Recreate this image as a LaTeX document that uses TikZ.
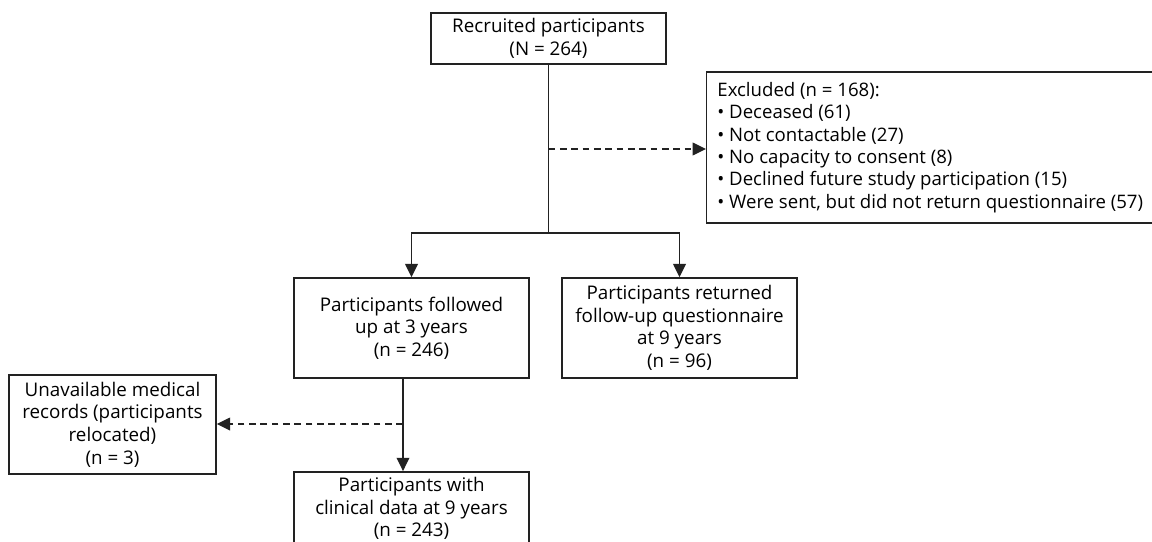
\documentclass[tikz,border=0pt]{standalone}
\usepackage{fontspec}
\setmainfont{Open Sans}
\usepackage{xcolor}
\usepackage{tikz}
\usetikzlibrary{arrows.meta, positioning, calc}
\definecolor{boxline}{RGB}{34, 34, 34}

\tikzset{
    flowbox/.style={draw=boxline, line width=1.1pt, align=center,
                    inner sep=4pt, minimum width=176.25pt},
    link/.style={draw=boxline, line width=1.1pt},
    linkarrow/.style={link, -{Triangle[length=10pt, width=9.5pt]}},
    droparrow/.style={linkarrow, dash pattern=on 5pt off 3.5pt}
}

\begin{document}
\begin{tikzpicture}[x=0.75pt, y=-0.75pt,
                    font=\fontsize{14.1pt}{17pt}\selectfont]
    \useasboundingbox (0,0) rectangle (1152,542);
    % boxes
    \node[flowbox, minimum height=38.25pt] (recruited) at (548.5,38.5)
        {Recruited participants\\(N = 264)};
    \node[flowbox, anchor=west, align=left, minimum height=113.25pt,
          inner xsep=8pt, font=\fontsize{13.95pt}{16.8pt}\selectfont]
        (excluded) at (706,147.5)
        {Excluded (n = 168):\\
         • Deceased (61)\\
         • Not contactable (27)\\
         • No capacity to consent (8)\\
         • Declined future study participation (15)\\
         • Were sent, but did not return questionnaire (57)};
    \node[flowbox, minimum height=75pt] (followed) at (411.5,328)
        {Participants followed\\up at 3 years\\(n = 246)};
    \node[flowbox, minimum height=75pt] (returned) at (679.5,328)
        {Participants returned\\follow-up questionnaire\\at 9 years\\(n = 96)};
    \node[flowbox, minimum width=155.25pt, minimum height=74.25pt]
        (unavailable) at (112.5,424.5)
        {Unavailable medical\\records (participants\\relocated)\\(n = 3)};
    \node[flowbox, minimum height=55pt] (clinical) at (411.5,508.5)
        {Participants with\\clinical data at 9 years\\(n = 243)};

    % connectors
    \coordinate (split) at (548.5,233);
    \coordinate (exclbranch) at (548.5,149);
    \draw[link] (recruited.south) -- (split);
    \draw[linkarrow] (split) -| (followed.north);
    \draw[linkarrow] (split) -| (returned.north);
    \draw[droparrow] (exclbranch) -- (excluded.west |- exclbranch);

    \coordinate (stem) at ($(followed.south)+(-8.5,0)$);
    \coordinate (lostbranch) at (403,424);
    \draw[linkarrow] (stem) -- (stem |- clinical.north);
    \draw[droparrow] (lostbranch) -- (unavailable.east |- lostbranch);
\end{tikzpicture}
\end{document}
